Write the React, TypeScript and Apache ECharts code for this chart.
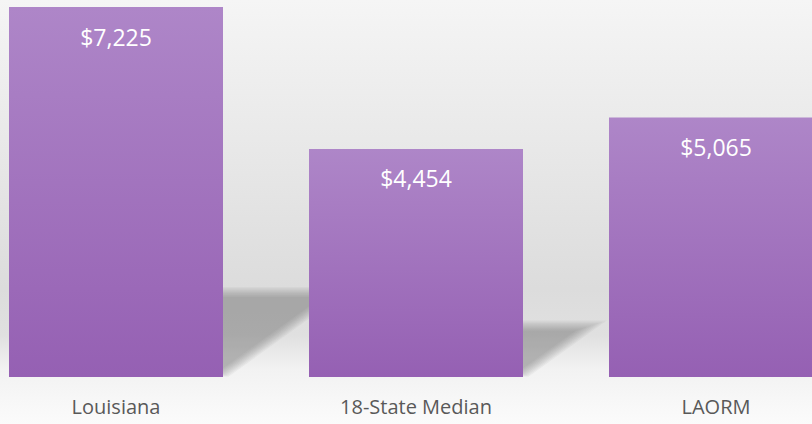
import React, { useEffect, useRef } from "react";
import * as echarts from "echarts";

const categories = ["Louisiana", "18-State Median", "LAORM"];
const values = [7225, 4454, 5065];
const valueLabels = ["$7,225", "$4,454", "$5,065"];

export default function App() {
  const ref = useRef<HTMLDivElement>(null);
  useEffect(() => {
    if (!ref.current) return;
    const chart = echarts.init(ref.current, undefined, { renderer: "svg" });
    const barWidth = 214;
    chart.setOption({
      animation: false,
      backgroundColor: new echarts.graphic.LinearGradient(0, 0, 0, 1, [
        { offset: 0, color: "#f5f5f5" },
        { offset: 0.68, color: "#dcdcdc" },
        { offset: 0.79, color: "#e0e0e0" },
        { offset: 0.87, color: "#f2f2f2" },
        { offset: 1, color: "#fbfbfb" },
      ]),
      grid: { left: 0, right: 0, top: 7, bottom: 47 },
      xAxis: {
        type: "category",
        data: categories,
        axisLine: { show: false },
        axisTick: { show: false },
        axisLabel: {
          color: "#595959",
          fontSize: 20,
          fontFamily: "Open Sans",
          margin: 19,
        },
      },
      yAxis: {
        type: "value",
        min: 0,
        max: 7225,
        show: false,
        splitLine: { show: false },
      },
      series: [
        {
          type: "custom",
          z: 1,
          clip: false,
          silent: true,
          data: values.map((v, i) => [i, v]),
          renderItem: (params: any, api: any) => {
            const idx = api.value(0);
            const v = api.value(1);
            const top = api.coord([idx, v]);
            const base = api.coord([idx, 0]);
            const h = base[1] - top[1];
            const shH = h * 0.235;
            const s = shH / 0.72;
            const xr = base[0] + barWidth / 2;
            const xl = base[0] - barWidth / 2;
            const y0 = base[1];
            const yTop = y0 - shH;
            const N = 9;
            const children: any[] = [];
            for (let k = 0; k < N; k++) {
              const d = -3 + (k * 10) / (N - 1);
              const yt = yTop + d;
              const yb = y0 - 2 - d * 0.6;
              const xAt = (y: number) => xr + (s * (y0 - y)) / shH - 1.71 * d;
              children.push({
                type: "polygon",
                shape: {
                  points: [
                    [xl + s, yt],
                    [xAt(yt), yt],
                    [xAt(yb), yb],
                    [xl, yb],
                  ],
                },
                style: { fill: "rgba(110,110,110,0.058)" },
              });
            }
            return { type: "group", children };
          },
        },
        {
          type: "bar",
          z: 2,
          data: values.map((v, i) => ({
            value: v,
            label: { formatter: valueLabels[i] },
          })),
          barWidth: barWidth,
          itemStyle: {
            color: new echarts.graphic.LinearGradient(0, 0, 0, 1, [
              { offset: 0, color: "#ae86c8" },
              { offset: 1, color: "#9560b3" },
            ]),
          },
          label: {
            show: true,
            position: "insideTop",
            distance: 18,
            color: "#ffffff",
            fontSize: 23,
            lineHeight: 23,
            fontFamily: "Open Sans",
          },
        },
      ],
    });
    return () => chart.dispose();
  }, []);
  return (
    <div
      style={{
        position: "absolute",
        left: 0,
        top: 0,
        width: 812,
        height: 424,
        overflow: "hidden",
      }}
    >
      <div
        ref={ref}
        style={{ position: "absolute", left: -34, top: 0, width: 900, height: 424 }}
      />
    </div>
  );
}
